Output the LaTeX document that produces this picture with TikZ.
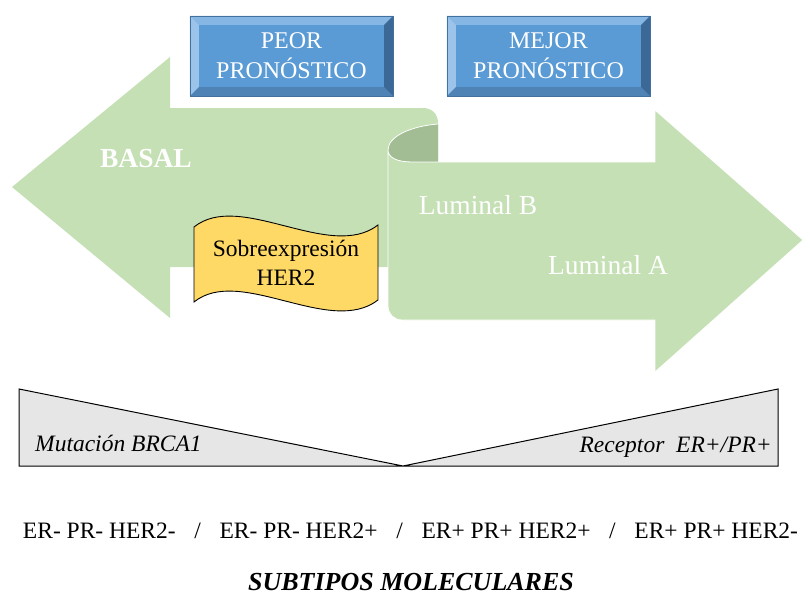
\documentclass[tikz,border=0pt]{standalone}
\usepackage{fontspec}
\setmainfont{Liberation Serif}
\usetikzlibrary{calc}
\definecolor{leafgreen}{HTML}{C5E0B4}
\definecolor{foldgreen}{HTML}{A2BC93}
\definecolor{boxblue}{HTML}{5B9BD5}
\definecolor{boxedge}{HTML}{41719C}
\definecolor{beveltop}{HTML}{86B6E4}
\definecolor{bevelleft}{HTML}{9CC4EA}
\definecolor{bevelbottom}{HTML}{4F82B5}
\definecolor{bevelright}{HTML}{3B6896}
\definecolor{flagyellow}{HTML}{FFD966}
\definecolor{wedgegray}{HTML}{E7E6E6}

\begin{document}
\begin{tikzpicture}
[x=1pt, y=-1pt,
every node/.style = {align=center, inner sep=0pt}]
\tikzstyle{title} = [rectangle, fill=boxblue, draw=boxedge, minimum width=203pt, minimum height=80pt, text=white, font=\fontsize{24}{30}\selectfont]
\tikzstyle{shapelabel} = [text=white, font=\fontsize{27.5}{30}\selectfont]
\tikzstyle{wedgelabel} = [font=\fontsize{23.5}{28}\selectfont\itshape]

\useasboundingbox (0,0) rectangle (804,597);

% flechas verdes
\fill[leafgreen] (12,187) -- (170,57) -- (170,108) -- (423,108)
  .. controls (432,108) and (438,114) .. (438,123) -- (438,267)
  -- (170,267) -- (170,318) -- cycle;
\fill[foldgreen] (438,124) .. controls (412,126) and (388,136) .. (388,150)
  .. controls (388,158) and (398,162) .. (412,162) -- (438,162) -- cycle;
\draw[white, line width=0.8pt] (438,124) .. controls (412,126) and (388,136) .. (388,150);
\filldraw[fill=leafgreen, draw=white, line width=0.8pt] (388,150)
  .. controls (388,158) and (398,162) .. (412,162) -- (655,162)
  -- (655,110) -- (803,240) -- (655,372) -- (655,320) -- (402,320)
  .. controls (394,320) and (388,314) .. (388,306) -- cycle;

\node[shapelabel, font=\fontsize{27.5}{30}\selectfont\bfseries] (basal) at (146,159) {BASAL};
\node[shapelabel] (lumb) at (478,205) {Luminal B};
\node[shapelabel] (luma) at (608,265) {Luminal A};

% cajas de pronostico
\node[title] (peor) at (291.5,56) {PEOR\\PRONÓSTICO};
\node[title] (mejor) at (548.5,56) {MEJOR\\PRONÓSTICO};
\foreach \b in {peor, mejor} {
  \fill[beveltop] (\b.north west) -- (\b.north east) -- ($(\b.north east)+(-9,9)$) -- ($(\b.north west)+(9,9)$) -- cycle;
  \fill[bevelleft] (\b.north west) -- ($(\b.north west)+(9,9)$) -- ($(\b.south west)+(9,-9)$) -- (\b.south west) -- cycle;
  \fill[bevelbottom] (\b.south west) -- ($(\b.south west)+(9,-9)$) -- ($(\b.south east)+(-9,-9)$) -- (\b.south east) -- cycle;
  \fill[bevelright] (\b.north east) -- ($(\b.north east)+(-9,9)$) -- ($(\b.south east)+(-9,-9)$) -- (\b.south east) -- cycle;
  \draw[boxedge] (\b.north west) rectangle (\b.south east);
}

% bandera HER2
\filldraw[fill=flagyellow, draw=black, line width=0.9pt] (194,227)
  .. controls (240,190) and (330,262) .. (378,225) -- (378,300)
  .. controls (330,337) and (240,265) .. (194,302) -- cycle;
\node[font=\fontsize{23.5}{29}\selectfont] (her2) at (286,263) {Sobreexpresión\\HER2};

% cunas
\fill[wedgegray] (19,389) -- (403,466) -- (778,389) -- (778,466) -- (19,466) -- cycle;
\draw[line width=1pt] (19,389) -- (19,466) -- (778,466) -- (778,389) -- (403,466) -- cycle;
\node[wedgelabel, anchor=base west] (brca) at (35,451) {Mutación BRCA1};
\node[wedgelabel, anchor=base east] (receptor) at (772,452) {Receptor\ \ ER+/PR+};

\node[font=\fontsize{23.5}{28}\selectfont, anchor=base] (markers) at (410.5,538)
  {\makebox[775pt]{ER- PR- HER2-\hfill/\hfill ER- PR- HER2+\hfill/\hfill ER+ PR+ HER2+\hfill/\hfill ER+ PR+ HER2-}};
\node[font=\fontsize{26}{30}\selectfont\bfseries\itshape, anchor=base] (subtipos) at (411,590) {SUBTIPOS MOLECULARES};
\end{tikzpicture}
\end{document}
